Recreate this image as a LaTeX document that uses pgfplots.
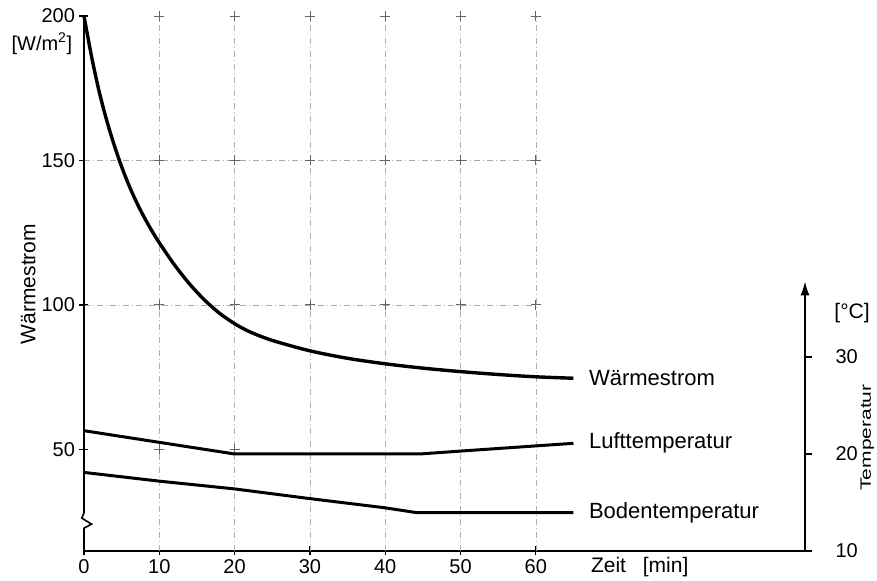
\documentclass[border=0pt]{standalone}
\usepackage{fontspec}
\setmainfont{Liberation Sans}
\usepackage{graphicx}
\usepackage{pgfplots}
\pgfplotsset{compat=1.18}
\usetikzlibrary{arrows.meta}
\begin{document}
\begin{tikzpicture}
\pgfplotsset{every axis/.append style={font=\fontsize{20}{24}\selectfont}}
\begin{axis}[
 scale only axis, width=721pt, height=535pt,
 xmin=0, xmax=95.75, ymin=14.8, ymax=200,
 axis x line=bottom, axis y line=left,
 x axis line style={-, line width=1.6pt},
 y axis line style={draw=none},
 xtick={0,10,...,60}, ytick={50,100,150,200},
 tick align=center, major tick length=9pt,
 tick style={line width=1.3pt, black},
 /pgf/number format/assume math mode=true,
 clip=false,
 xticklabel style={yshift=-1pt},
 yticklabel style={xshift=-1pt},
]
% light dash-dotted grid
\foreach \xx in {10,20,...,60}{
  \edef\tmp{\noexpand\draw[gray!60, dash pattern=on 6pt off 3pt on 1pt off 3pt, line width=0.5pt] (axis cs:\xx,14.8) -- (axis cs:\xx,200);}\tmp
}
\draw[gray!70, dash pattern=on 6pt off 3pt on 1pt off 3pt, line width=0.6pt] (axis cs:0,150) -- (axis cs:60,150);
\draw[gray!70, dash pattern=on 6pt off 3pt on 1pt off 3pt, line width=0.6pt] (axis cs:0,100) -- (axis cs:60,100);
\addplot[only marks, mark=+, mark size=5pt, gray!80!black, line width=0.8pt] coordinates {
 (10,200)(20,200)(30,200)(40,200)(50,200)(60,200)
 (10,150)(20,150)(30,150)(40,150)(50,150)(60,150)
 (10,100)(20,100)(30,100)(40,100)(50,100)(60,100)
 (10,50)(20,50)};
% left axis line with break
\draw[line width=1.6pt] (axis cs:0,200) -- (axis cs:0,28) -- (axis cs:-0.3,26.2) -- (axis cs:1.0,24.1) -- (axis cs:0,22.7) -- (axis cs:0,14.8);
% Waermestrom
\addplot[black, line width=3.4pt, smooth, tension=0.5] coordinates {
 (0,200)(1,186)(2,174)(3,164)(4,155.4)(5,147.8)(6,141.2)(7,135.4)(8,130.3)(9,125.7)(10,121.5)
 (12,113.9)(14,107.3)(16,101.7)(18,97.1)(20,93.5)(22,90.7)(25,87.7)(30,84.1)(35,81.5)(40,79.6)
 (45,78.1)(50,76.9)(55,75.9)(60,75.1)(65,74.6)};
\node[anchor=west, font=\fontsize{22}{26}\selectfont] at (axis cs:66.6,74.5) {Wärmestrom};
\node[anchor=west, font=\fontsize{22}{26}\selectfont] at (axis cs:66.6,52.1) {Lufttemperatur};
\node[anchor=west, font=\fontsize{22}{26}\selectfont] at (axis cs:66.6,27.9) {Bodentemperatur};
\node at (axis cs:-5.6,190.5) {[W/m\textsuperscript{2}]};
\node[rotate=90, font=\fontsize{21}{24}\selectfont] at (axis cs:-7.4,107.2) {Wärmestrom};
\node[font=\fontsize{21}{24}\selectfont] at (axis cs:73.8,9.3) {Zeit\hspace{0.8em}[min]};
\node[font=\fontsize{21}{24}\selectfont] at (axis cs:102,97.2) {[°C]};
\node[rotate=90, anchor=north, inner sep=0pt, font=\fontsize{15}{18}\selectfont] at (axis cs:103.1,54.1) {\scalebox{1.4}[1]{Temperatur}};
\coordinate (SW) at (rel axis cs:0,0);
\coordinate (NE) at (rel axis cs:1,1);
\end{axis}
\begin{axis}[
 scale only axis, width=721pt, height=535pt,
 xmin=0, xmax=95.75, ymin=10, ymax=65.15,
 axis x line=none, axis y line*=right,
 y axis line style={draw=none},
 ytick={10,20,30}, tick align=outside, major tick length=7pt,
 tick style={line width=1.3pt, black},
 /pgf/number format/assume math mode=true,
 yticklabel style={xshift=20pt},
 clip=false,
]
\draw[line width=1.6pt, -{Latex[length=14pt,width=9pt]}] (axis cs:95.75,10) -- (axis cs:95.75,37.8);
\addplot[black, line width=3pt] coordinates {(0,22.4)(10,21.2)(20,20.0)(44.6,20.0)(50,20.3)(65,21.1)};
\addplot[black, line width=3pt] coordinates {(0,18.1)(10,17.2)(20,16.4)(30,15.4)(40,14.45)(44.2,13.95)(65,13.95)};
\end{axis}
\pgfresetboundingbox
\path[use as bounding box] ([xshift=-84pt,yshift=-30pt]SW) rectangle ([xshift=72pt,yshift=16pt]NE);
\end{tikzpicture}
\end{document}
